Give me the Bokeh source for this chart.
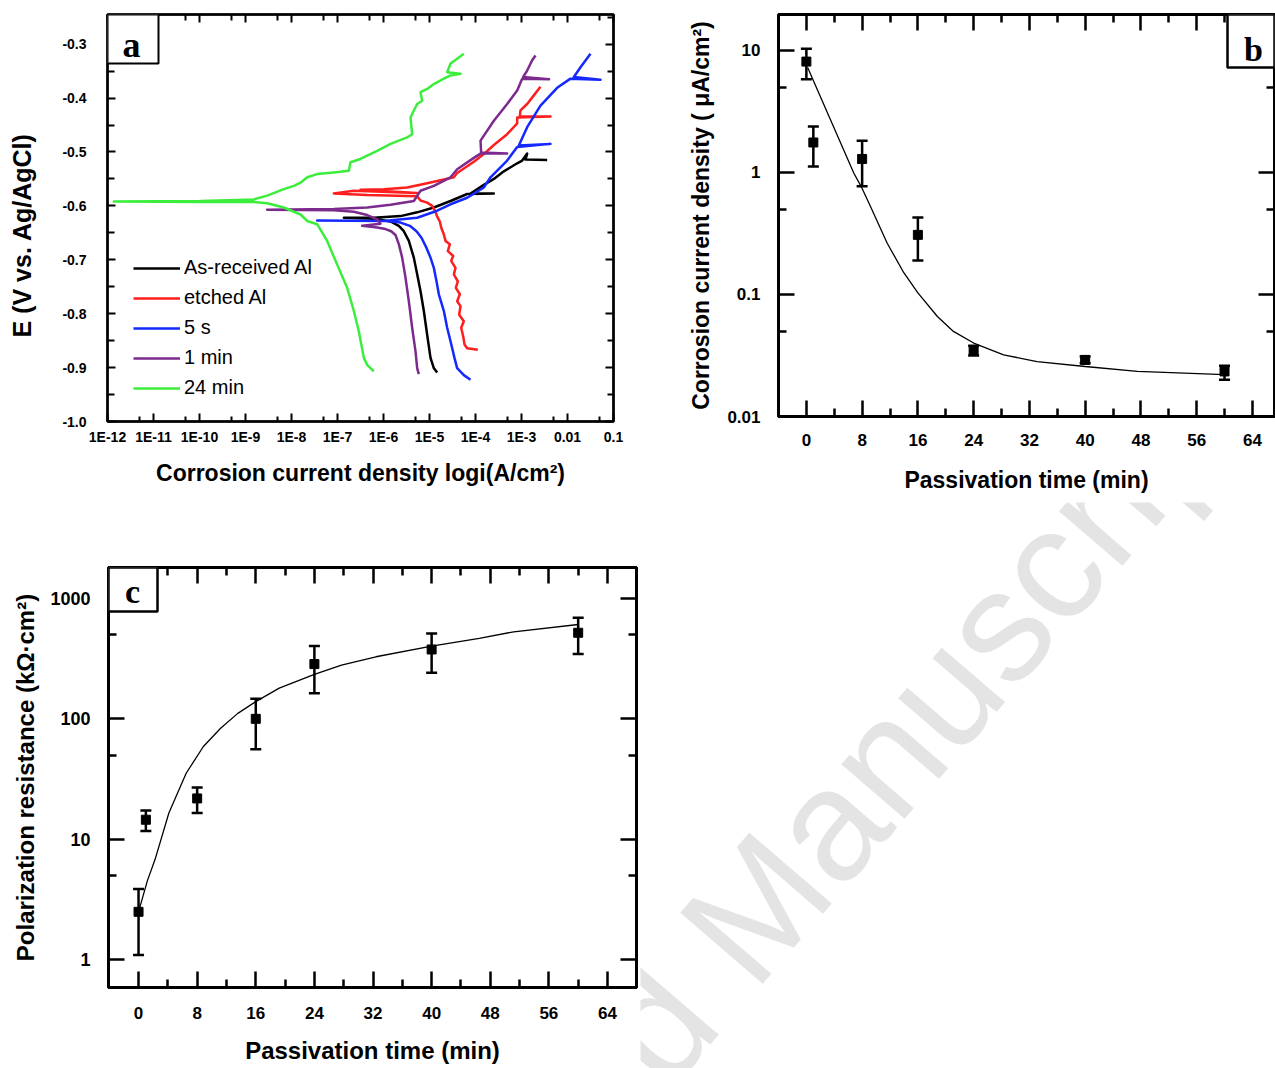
from bokeh.plotting import figure
from bokeh.models import (LinearAxis, LogAxis, FixedTicker, Legend, LegendItem, Whisker,
                          TeeHead, ColumnDataSource, BoxAnnotation, Label, Range1d,
                          CustomJSTickFormatter)
from bokeh.layouts import row, column
from bokeh.embed import file_html
from bokeh.resources import INLINE

SANS = "Liberation Sans"
SERIF = "Liberation Serif"

# ---------------- Panel a: polarization curves (log10 of current density, potential in V)
black_logi = [-4.833, -4.906, -4.978, -5.051, -5.123, -5.196, -5.268, -5.341, -5.449, -5.558,
              -5.667, -5.848, -6.210, -6.862, -6.210, -5.630, -5.268, -4.906, -4.543, -4.181,
              -3.601, -4.109, -3.819, -3.601, -3.384, -3.094, -2.985, -2.877, -2.913, -2.442]
black_E = [-0.909, -0.901, -0.882, -0.839, -0.795, -0.758, -0.727, -0.696, -0.665, -0.647,
           -0.637, -0.629, -0.624, -0.622, -0.622, -0.619, -0.612, -0.603, -0.591, -0.578,
           -0.577, -0.577, -0.561, -0.550, -0.536, -0.521, -0.516, -0.503, -0.514, -0.515]

red_logi = [-3.949, -4.181, -4.239, -4.268, -4.311, -4.254, -4.355, -4.326, -4.398, -4.341,
            -4.428, -4.384, -4.471, -4.435, -4.529, -4.485, -4.601, -4.558, -4.652, -4.688,
            -4.746, -4.775, -4.833, -4.870, -4.942, -5.051, -5.196, -5.268, -6.355, -7.080,
            -6.645, -5.268, -6.500, -5.993, -5.485, -5.051, -4.471, -4.398, -4.036, -3.819,
            -3.601, -3.312, -3.094, -3.094, -2.369, -3.036, -3.022, -2.877, -2.732, -2.587]
red_E = [-0.867, -0.864, -0.857, -0.842, -0.826, -0.814, -0.802, -0.786, -0.777, -0.764,
         -0.752, -0.740, -0.727, -0.715, -0.702, -0.693, -0.684, -0.671, -0.665, -0.653,
         -0.640, -0.629, -0.620, -0.611, -0.600, -0.594, -0.590, -0.582, -0.580, -0.577,
         -0.572, -0.576, -0.570, -0.569, -0.566, -0.558, -0.547, -0.539, -0.518, -0.504,
         -0.487, -0.467, -0.447, -0.436, -0.434, -0.434, -0.423, -0.411, -0.395, -0.379]

blue_logi = [-4.109, -4.254, -4.399, -4.457, -4.543, -4.616, -4.688, -4.797, -4.848, -4.906,
             -4.978, -5.065, -5.174, -5.283, -5.427, -5.630, -5.920, -7.442, -5.993, -5.268,
             -4.833, -4.543, -4.181, -3.819, -3.674, -3.312, -3.094, -2.369, -3.058, -2.877,
             -2.587, -2.225, -1.935, -1.283, -1.862, -1.717, -1.500]
blue_E = [-0.9225, -0.914, -0.901, -0.882, -0.851, -0.826, -0.795, -0.764, -0.740, -0.715,
          -0.696, -0.678, -0.659, -0.647, -0.637, -0.631, -0.628, -0.627, -0.628, -0.622,
          -0.609, -0.597, -0.585, -0.566, -0.547, -0.516, -0.491, -0.485, -0.488, -0.454,
          -0.414, -0.381, -0.364, -0.366, -0.361, -0.343, -0.318]

purple_logi = [-5.232, -5.268, -5.304, -5.377, -5.449, -5.522, -5.594, -5.667, -5.739, -5.833,
               -5.957, -6.138, -6.464, -6.065, -6.138, -6.355, -6.645, -7.080, -8.529, -7.080,
               -6.355, -5.848, -5.340, -5.196, -4.906, -4.543, -4.398, -4.036, -3.891, -3.312,
               -3.877, -3.891, -3.601, -3.312, -3.094, -2.985, -2.400, -2.964, -2.877, -2.768,
               -2.695]
purple_E = [-0.912, -0.901, -0.870, -0.826, -0.777, -0.733, -0.696, -0.671, -0.654, -0.647,
            -0.643, -0.640, -0.637, -0.633, -0.625, -0.617, -0.611, -0.608, -0.607, -0.606,
            -0.603, -0.598, -0.591, -0.572, -0.563, -0.547, -0.532, -0.511, -0.503, -0.503,
            -0.501, -0.479, -0.442, -0.411, -0.386, -0.364, -0.365, -0.361, -0.349, -0.330,
            -0.321]

green_logi = [-6.210, -6.355, -6.427, -6.536, -6.645, -6.790, -7.007, -7.225, -7.442, -7.659,
              -7.804, -8.167, -8.529, -8.819, -9.978, -11.862, -9.978, -8.819, -8.529, -8.167,
              -7.949, -7.804, -7.659, -7.442, -7.080, -6.754, -6.717, -6.500, -6.355, -6.138,
              -5.848, -5.485, -5.377, -5.413, -5.341, -5.268, -5.159, -5.196, -5.051, -4.906,
              -4.688, -4.543, -4.326, -4.616, -4.543, -4.399, -4.254]
green_E = [-0.907, -0.895, -0.882, -0.833, -0.795, -0.752, -0.709, -0.665, -0.634, -0.628,
           -0.616, -0.603, -0.595, -0.593, -0.593, -0.592, -0.591, -0.588, -0.581, -0.569,
           -0.563, -0.557, -0.547, -0.541, -0.538, -0.535, -0.519, -0.513, -0.507, -0.498,
           -0.485, -0.473, -0.467, -0.436, -0.423, -0.411, -0.405, -0.389, -0.383, -0.374,
           -0.364, -0.358, -0.355, -0.352, -0.336, -0.327, -0.318]

series_names = ["As-received Al", "etched Al", "5 s", "1 min", "24 min"]
series_colors = ["#000000", "#ff1e1e", "#1428ff", "#7d2a8e", "#3cee3c"]

a_xticks = [1e-12, 1e-11, 1e-10, 1e-9, 1e-8, 1e-7, 1e-6, 1e-5, 1e-4, 1e-3, 1e-2, 1e-1]
a_xtick_labels = ["1E-12", "1E-11", "1E-10", "1E-9", "1E-8", "1E-7", "1E-6", "1E-5",
                  "1E-4", "1E-3", "0.01", "0.1"]
a_xminor = [5e-12, 5e-11, 5e-10, 5e-9, 5e-8, 5e-7, 5e-6, 5e-5, 5e-4, 5e-3, 5e-2]
a_yticks = [-1.0, -0.9, -0.8, -0.7, -0.6, -0.5, -0.4, -0.3]
a_ytick_labels = ["-1.0", "-0.9", "-0.8", "-0.7", "-0.6", "-0.5", "-0.4", "-0.3"]
a_yminor = [-0.95, -0.85, -0.75, -0.65, -0.55, -0.45, -0.35, -0.25]

# ---------------- Panel b: corrosion current density vs passivation time
time_min = [0, 1, 8, 16, 24, 40, 60]
icorr = [8.1, 1.76, 1.29, 0.308, 0.0347, 0.0291, 0.0234]
icorr_hi = [10.3, 2.38, 1.82, 0.428, 0.0380, 0.0310, 0.0260]
icorr_lo = [5.8, 1.12, 0.77, 0.190, 0.0316, 0.0273, 0.0200]
icorr_fit_t = [0.2, 2, 4.4, 6.8, 8, 9.2, 11.6, 14, 16, 18.8, 21.1, 24, 28.3, 33.1, 40, 47.5, 60]
icorr_fit = [7.2, 4.2, 2.04, 0.99, 0.74, 0.526, 0.263, 0.150, 0.103, 0.066, 0.0498, 0.040,
             0.032, 0.0282, 0.0257, 0.0234, 0.0220]

# ---------------- Panel c: polarization resistance vs passivation time
rp = [2.49, 14.5, 21.8, 100, 285, 377, 519]
rp_hi = [3.86, 17.3, 26.9, 147, 403, 513, 692]
rp_lo = [1.09, 11.7, 16.5, 56, 163, 241, 345]
rp_fit_t = [0, 1.2, 2.26, 4.14, 6.5, 8.85, 11.2, 13.55, 16, 19.2, 24, 27.7, 32.4, 40, 46.5, 51.2, 60]
rp_fit = [2.49, 4.5, 6.8, 16.5, 35.3, 58.9, 83.6, 111, 139, 180, 234, 280, 328, 402, 466, 529, 608]

time_ticks = [0, 8, 16, 24, 32, 40, 48, 56, 64]
time_minor = [4, 12, 20, 28, 36, 44, 52, 60]
b_yticks = [0.01, 0.1, 1, 10]
b_ytick_labels = ["0.01", "0.1", "1", "10"]
b_yminor = [0.05, 0.5, 5]
c_yticks = [1, 10, 100, 1000]
c_ytick_labels = ["1", "10", "100", "1000"]
c_yminor = [5, 50, 500]


def style_axis(ax, tick_px, major_len, minor_len, lw, standoff=0, title_px=20,
               title_standoff=0, hide=False):
    ax.major_tick_in = major_len
    ax.major_tick_out = 0
    ax.minor_tick_in = minor_len
    ax.minor_tick_out = 0
    ax.major_tick_line_width = lw
    ax.minor_tick_line_width = lw
    ax.major_tick_line_color = "black"
    ax.minor_tick_line_color = "black"
    ax.axis_line_width = lw
    ax.axis_line_color = "black"
    ax.major_label_text_font = SANS
    ax.major_label_text_font_style = "bold"
    ax.major_label_text_color = "black"
    ax.major_label_standoff = standoff
    ax.axis_label_text_font = SANS
    ax.axis_label_text_font_style = "bold"
    ax.axis_label_text_color = "black"
    ax.axis_label_text_font_size = f"{title_px}px"
    ax.axis_label_standoff = title_standoff
    if hide:
        ax.major_label_text_font_size = "0px"
        ax.formatter = CustomJSTickFormatter(code="return ''")
    else:
        ax.major_label_text_font_size = f"{tick_px}px"


def add_mirrors(p, log_x, log_y, xt, yt, major_len, minor_len, lw):
    top = LogAxis(ticker=xt) if log_x else LinearAxis(ticker=xt)
    right = LogAxis(ticker=yt) if log_y else LinearAxis(ticker=yt)
    style_axis(top, 0, major_len, minor_len, lw, hide=True)
    style_axis(right, 0, major_len, minor_len, lw, hide=True)
    p.add_layout(top, "above")
    p.add_layout(right, "right")


def base_fig(**kw):
    p = figure(toolbar_location=None, output_backend="svg", background_fill_color="white",
               border_fill_color="white", frame_align=False, **kw)
    p.grid.visible = False
    return p


def panel_box(p, left, right, top, bottom, lw):
    p.add_layout(BoxAnnotation(left=left, right=right, top=top, bottom=bottom,
                               left_units="screen", right_units="screen",
                               top_units="screen", bottom_units="screen",
                               fill_color="white", fill_alpha=1,
                               line_color="black", line_alpha=1, line_width=lw))


def panel_letter(p, x, y, txt, size):
    p.add_layout(Label(x=x, y=y, x_units="screen", y_units="screen", text=txt,
                       text_font=SERIF, text_font_style="bold", text_font_size=size,
                       text_align="center", text_baseline="alphabetic", text_color="black"))


# ================= Panel a
pa = base_fig(width=640, height=502, x_axis_type="log",
              x_range=Range1d(1e-12, 0.1), y_range=Range1d(-1.0, -0.245),
              min_border_left=107, min_border_right=27, min_border_top=14, min_border_bottom=81,
              outline_line_color="black", outline_line_width=2.5)
xt_a = FixedTicker(ticks=a_xticks, minor_ticks=a_xminor)
yt_a = FixedTicker(ticks=a_yticks, minor_ticks=a_yminor)
ax = pa.xaxis[0]
ax.ticker = xt_a
ax.major_label_overrides = dict(zip(a_xticks, a_xtick_labels))
ax.axis_label = "Corrosion current density logi(A/cm²)"
style_axis(ax, 14, 8, 5, 2, standoff=7, title_px=23, title_standoff=12)
ay = pa.yaxis[0]
ay.ticker = yt_a
ay.major_label_overrides = dict(zip(a_yticks, a_ytick_labels))
# trailing no-break spaces push the title a little below the frame centre, as in the original
ay.axis_label = "E (V vs. Ag/AgCl)" + "\u00a0" * 5
style_axis(ay, 14, 8, 7, 2, standoff=21, title_px=25, title_standoff=23)
add_mirrors(pa, True, False, xt_a, yt_a, 8, 6, 2)

curves = [(black_logi, black_E), (red_logi, red_E), (blue_logi, blue_E),
          (purple_logi, purple_E), (green_logi, green_E)]
renderers = []
for (lg, ev), col in zip(curves, series_colors):
    r = pa.line(x=[10 ** v for v in lg], y=ev, line_color=col, line_width=2.5,
                line_join="round")
    renderers.append(r)

legend = Legend(items=[LegendItem(label=n, renderers=[r]) for n, r in zip(series_names, renderers)],
                location=(26, 22), orientation="vertical", glyph_width=47, glyph_height=20,
                label_height=20, spacing=7, padding=0, margin=0, label_standoff=4,
                border_line_color=None, background_fill_alpha=0,
                label_text_font=SANS, label_text_font_size="20px", label_text_color="black")
pa.add_layout(legend)

panel_box(pa, 0, 51, 407, 358, 2)
panel_letter(pa, 24, 377, "a", "36px")

# ================= Panel b
pb = base_fig(width=635, height=502, y_axis_type="log",
              x_range=Range1d(-4, 67.17), y_range=Range1d(0.01, 19.7),
              min_border_left=138, min_border_right=1, min_border_top=14, min_border_bottom=86,
              outline_line_color="black", outline_line_width=3)
xt_b = FixedTicker(ticks=time_ticks, minor_ticks=time_minor)
yt_b = FixedTicker(ticks=b_yticks, minor_ticks=b_yminor)
bx = pb.xaxis[0]
bx.ticker = xt_b
bx.axis_label = "Passivation time (min)"
style_axis(bx, 17, 16, 8, 2.5, standoff=17, title_px=23, title_standoff=18)
by = pb.yaxis[0]
by.ticker = yt_b
by.major_label_overrides = dict(zip(b_yticks, b_ytick_labels))
by.axis_label = "Corrosion current density ( μA/cm²)"
style_axis(by, 17, 16, 8, 2.5, standoff=18, title_px=23, title_standoff=10)
add_mirrors(pb, False, True, xt_b, yt_b, 16, 8, 2.5)

src_b = ColumnDataSource(dict(t=time_min, y=icorr, hi=icorr_hi, lo=icorr_lo))
pb.line(x=icorr_fit_t, y=icorr_fit, line_color="black", line_width=1.3)
pb.add_layout(Whisker(source=src_b, base="t", upper="hi", lower="lo", line_width=2.5,
                      line_color="black",
                      upper_head=TeeHead(size=11, line_width=2.5, line_color="black"),
                      lower_head=TeeHead(size=11, line_width=2.5, line_color="black")))
pb.scatter("t", "y", source=src_b, marker="square", size=9, color="black")

panel_box(pb, 449, 496, 402, 349, 2.5)
panel_letter(pb, 475, 367, "b", "34px")

# ================= Panel c
pc = base_fig(width=640, height=566, y_axis_type="log",
              x_range=Range1d(-4.1, 67.96), y_range=Range1d(0.585, 1810),
              min_border_left=108, min_border_right=4, min_border_top=65, min_border_bottom=81,
              outline_line_color="black", outline_line_width=3)
xt_c = FixedTicker(ticks=time_ticks, minor_ticks=time_minor)
yt_c = FixedTicker(ticks=c_yticks, minor_ticks=c_yminor)
cx = pc.xaxis[0]
cx.ticker = xt_c
cx.axis_label = "Passivation time (min)"
style_axis(cx, 17, 16, 8, 2.5, standoff=19, title_px=24, title_standoff=15)
cy = pc.yaxis[0]
cy.ticker = yt_c
cy.major_label_overrides = dict(zip(c_yticks, c_ytick_labels))
cy.axis_label = "Polarization resistance (kΩ·cm²)"
style_axis(cy, 18, 16, 8, 2.5, standoff=18, title_px=24, title_standoff=8)
add_mirrors(pc, False, True, xt_c, yt_c, 16, 8, 2.5)

src_c = ColumnDataSource(dict(t=time_min, y=rp, hi=rp_hi, lo=rp_lo))
pc.line(x=rp_fit_t, y=rp_fit, line_color="black", line_width=1.3)
pc.add_layout(Whisker(source=src_c, base="t", upper="hi", lower="lo", line_width=2.5,
                      line_color="black",
                      upper_head=TeeHead(size=11, line_width=2.5, line_color="black"),
                      lower_head=TeeHead(size=11, line_width=2.5, line_color="black")))
pc.scatter("t", "y", source=src_c, marker="square", size=9, color="black")

panel_box(pc, 0, 49, 420, 376, 2.5)
panel_letter(pc, 24, 396, "c", "34px")

# ================= watermark area (bottom right)
pw = figure(width=635, height=566, x_range=Range1d(0, 1), y_range=Range1d(0, 1),
            x_axis_location=None, y_axis_location=None, min_border=0, frame_align=False,
            outline_line_color=None, toolbar_location=None, output_backend="svg",
            background_fill_color="white", border_fill_color="white")
pw.grid.visible = False
pw.add_layout(Label(x=72, y=111, x_units="screen", y_units="screen", text="Manuscript",
                    angle=0.86, text_font=SANS, text_font_size="158px",
                    text_color="#e4e4e4", text_align="left", text_baseline="alphabetic"))
pw.add_layout(Label(x=72, y=111, x_units="screen", y_units="screen", text="Accepted ",
                    angle=0.86, text_font=SANS, text_font_size="158px",
                    text_color="#e4e4e4", text_align="right", text_baseline="alphabetic"))

layout = column(row(pa, pb), row(pc, pw))
open("out.html", "w").write(file_html(layout, INLINE))
